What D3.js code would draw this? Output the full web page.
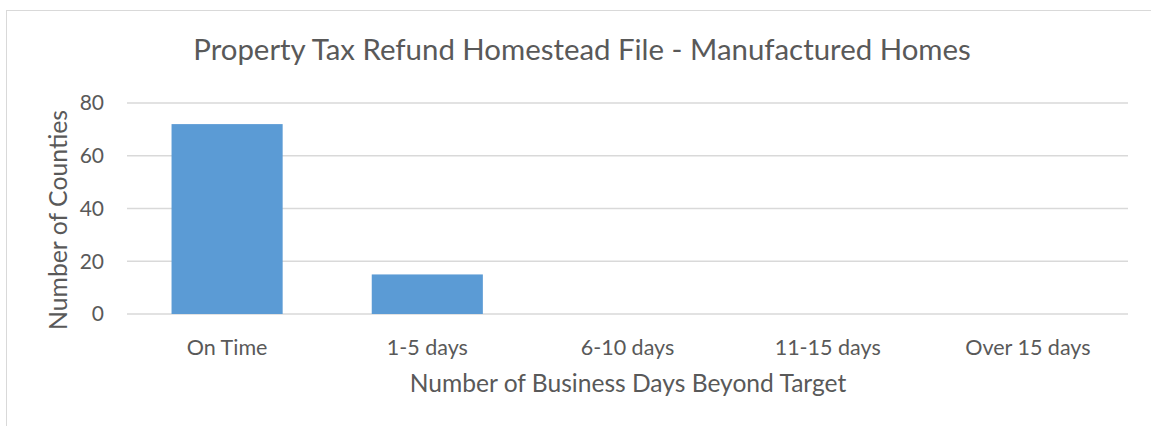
<!DOCTYPE html>
<html>
<head>
<meta charset="utf-8">
<script src="https://cdn.jsdelivr.net/npm/d3@7"></script>
<style>
  body { margin: 0; background: #fff; }
  text { font-family: Lato, "Open Sans", sans-serif; fill: #595959; }
</style>
</head>
<body>
<svg width="1151" height="426"></svg>
<script>
var categories = ["On Time", "1-5 days", "6-10 days", "11-15 days", "Over 15 days"];
var counties = [72, 15, 0, 0, 0];
var yTicks = [0, 20, 40, 60, 80];

var svg = d3.select("svg"),
    width = +svg.attr("width"),
    height = +svg.attr("height");

var plotLeft = 127, plotRight = 1128, plotTop = 103, plotBottom = 314;

// chart frame
svg.append("rect")
  .attr("x", 6.5).attr("y", 10.5)
  .attr("width", width).attr("height", height)
  .attr("fill", "none")
  .attr("stroke", "#d9d9d9");

var x = d3.scaleBand()
  .domain(categories)
  .range([plotLeft, plotRight])
  .paddingInner(0.445)
  .paddingOuter(0.2225);

var y = d3.scaleLinear()
  .domain([0, 80])
  .range([plotBottom, plotTop]);

// gridlines
svg.append("g").selectAll("line")
  .data(yTicks)
  .enter().append("line")
  .attr("x1", plotLeft).attr("x2", plotRight)
  .attr("y1", function(d) { return y(d); })
  .attr("y2", function(d) { return y(d); })
  .attr("stroke", "#d9d9d9")
  .attr("stroke-width", 1.5);

// y tick labels
svg.append("g").selectAll("text")
  .data(yTicks)
  .enter().append("text")
  .attr("x", 104)
  .attr("y", function(d) { return y(d); })
  .attr("dy", "0.35em")
  .attr("text-anchor", "end")
  .style("font-size", "21px")
  .text(function(d) { return d; });

// bars
svg.append("g").selectAll("rect")
  .data(counties)
  .enter().append("rect")
  .attr("x", function(d, i) { return x(categories[i]); })
  .attr("width", x.bandwidth())
  .attr("y", function(d) { return y(d); })
  .attr("height", function(d) { return y(0) - y(d); })
  .attr("fill", "#5b9bd5");

// x tick labels
svg.append("g").selectAll("text")
  .data(categories)
  .enter().append("text")
  .attr("x", function(d) { return x(d) + x.bandwidth() / 2; })
  .attr("y", 347)
  .attr("dy", "0.35em")
  .attr("text-anchor", "middle")
  .style("font-size", "21.5px")
  .text(function(d) { return d; });

// title
svg.append("text")
  .attr("x", 582).attr("y", 50)
  .attr("dy", "0.35em")
  .attr("text-anchor", "middle")
  .style("font-size", "29.4px")
  .text("Property Tax Refund Homestead File - Manufactured Homes");

// axis titles
svg.append("text")
  .attr("x", 628).attr("y", 383)
  .attr("dy", "0.35em")
  .attr("text-anchor", "middle")
  .style("font-size", "24.6px")
  .text("Number of Business Days Beyond Target");

svg.append("text")
  .attr("transform", "translate(58," + 220 + ") rotate(-90)")
  .attr("dy", "0.35em")
  .attr("text-anchor", "middle")
  .style("font-size", "24.8px")
  .text("Number of Counties");
</script>
</body>
</html>
